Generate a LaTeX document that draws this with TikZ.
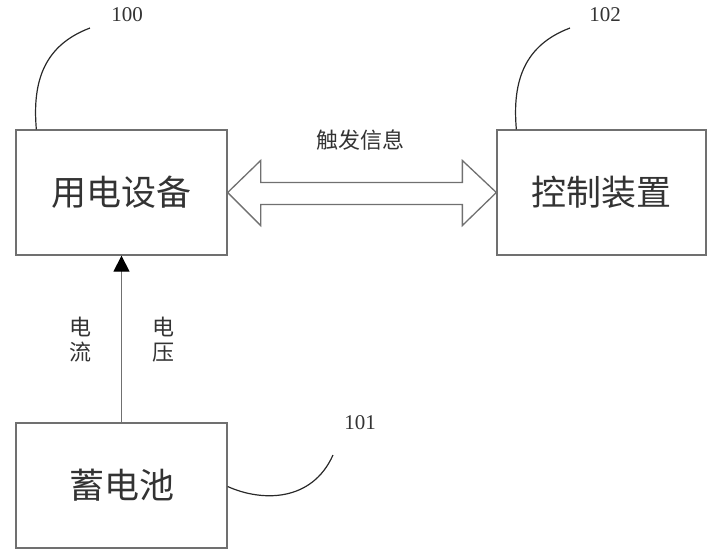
\documentclass[tikz,border=0pt]{standalone}
\usepackage{fontspec}
\setmainfont{Liberation Serif}
\newfontfamily\cjk{Noto Sans CJK SC}
\usetikzlibrary{arrows.meta,calc}
\definecolor{linegray}{HTML}{707070}
\definecolor{textgray}{HTML}{333333}
\begin{document}
\begin{tikzpicture}[x=1pt,y=-1pt,
  blockbox/.style={draw=linegray,line width=1.3pt,minimum height=125pt,inner sep=0pt,text=textgray,font=\cjk\fontsize{35}{38}\selectfont},
  lbl/.style={text=textgray,inner sep=0pt,font=\cjk\fontsize{22}{25}\selectfont},
  refnum/.style={text=textgray,inner sep=0pt,font=\fontsize{21}{24}\selectfont},
  leader/.style={draw=textgray!80!black,line width=1.2pt}]
\useasboundingbox (0,0) rectangle (719,550);
\node[blockbox,minimum width=211pt] (a) at (121.5,192.5) {用电设备};
\node[blockbox,minimum width=209pt] (b) at (601.5,192.5) {控制装置};
\node[blockbox,minimum width=211pt] (c) at (121.5,485.5) {蓄电池};
% double arrow
\draw[draw=linegray,line width=1.3pt,line join=miter]
  (a.east) -- ($(a.east)+(33,-32)$) -- ($(a.east)+(33,-10)$) -- ($(b.west)+(-34,-10)$)
  -- ($(b.west)+(-34,-32)$) -- (b.west) -- ($(b.west)+(-34,33)$) -- ($(b.west)+(-34,12)$)
  -- ($(a.east)+(33,12)$) -- ($(a.east)+(33,33)$) -- cycle;
\node[lbl] (trig) at (360,140) {触发信息};
% vertical arrow
\draw[draw=linegray,line width=1.3pt,-{Triangle[width=16pt,length=16pt,fill=black,color=black]}] (c.north) -- (a.south);
\node[lbl,align=center] (cur) at (80,340) {电\\流};
\node[lbl,align=center] (vol) at (163,340) {电\\压};
% reference numbers
\node[refnum] (n100) at (127,15) {100};
\node[refnum] (n102) at (605,15) {102};
\node[refnum] (n101) at (360,423) {101};
\coordinate (e100) at (90,28);
\coordinate (e102) at (570,28);
\coordinate (e101) at (333,455);
\draw[leader] ($(a.north west)+(21,0)$) .. controls (32,80) and (45,45) .. (e100);
\draw[leader] ($(b.north west)+(20,0)$) .. controls (512,80) and (525,45) .. (e102);
\draw[leader] ($(c.east)+(0,1)$) .. controls (262,502) and (312,502) .. (e101);
\end{tikzpicture}
\end{document}
